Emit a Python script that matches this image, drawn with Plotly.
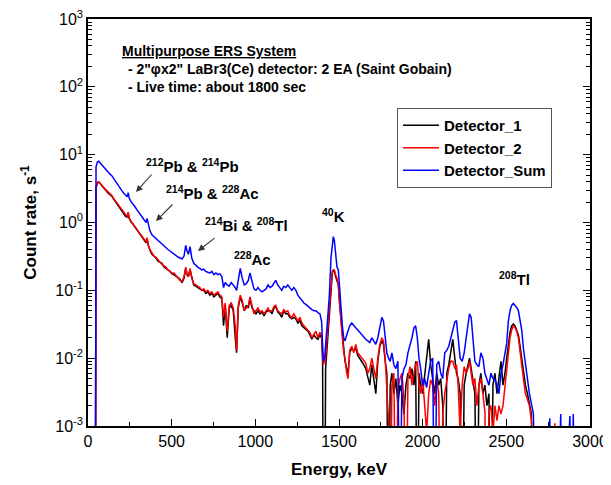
import plotly.graph_objects as go

# ---------------- data ----------------
energy = [44, 48, 56, 64, 72, 82, 94, 106, 118, 130,
          142, 154, 166, 178, 190, 202, 214, 226, 234, 240,
          246, 256, 268, 280, 292, 304, 316, 328, 340, 347,
          353, 360, 370, 382, 394, 406, 418, 430, 442, 454,
          466, 478, 490, 502, 514, 526, 538, 550, 562, 574,
          584, 592, 600, 610, 620, 632, 644, 656, 668, 680,
          692, 704, 716, 728, 740, 752, 764, 776, 788, 800,
          810, 820, 832, 844, 856, 868, 880, 888, 898, 910,
          922, 934, 946, 958, 968, 980, 992, 1004, 1016, 1028,
          1040, 1052, 1064, 1076, 1088, 1100, 1112, 1122, 1134, 1146,
          1158, 1170, 1182, 1194, 1206, 1218, 1230, 1242, 1254, 1266,
          1278, 1290, 1302, 1314, 1326, 1338, 1350, 1362, 1374, 1386,
          1396, 1402, 1406, 1414, 1420, 1432, 1442, 1452, 1460, 1466,
          1472, 1480, 1488, 1496, 1504, 1512, 1520, 1528, 1536, 1546,
          1554, 1564, 1576, 1588, 1600, 1612, 1624, 1636, 1648, 1660,
          1672, 1684, 1696, 1708, 1720, 1732, 1744, 1756, 1766, 1776,
          1786, 1796, 1806, 1816, 1828, 1840, 1852, 1864, 1876, 1888,
          1900, 1912, 1924, 1936, 1948, 1958, 1968, 1978, 1988, 2000,
          2012, 2024, 2036, 2048, 2060, 2072, 2084, 2096, 2108, 2120,
          2132, 2144, 2156, 2168, 2180, 2192, 2202, 2212, 2224, 2236,
          2248, 2260, 2270, 2280, 2290, 2300, 2312, 2324, 2336, 2348,
          2360, 2372, 2384, 2396, 2408, 2420, 2432, 2444, 2456, 2468,
          2480, 2492, 2502, 2512, 2522, 2532, 2542, 2552, 2562, 2572,
          2582, 2592, 2602, 2614, 2626, 2638, 2650, 2662, 2674, 2740,
          2760, 2770, 2790, 2800, 2825, 2835, 2880, 2890, 2900, 2910]

detector_sum = [1e-5, 6.6, 7.8, 8.0, 7.6, 7.1, 6.5, 6.0, 5.6, 5.2,
                4.9, 4.4, 4.0, 3.6, 3.25, 2.95, 2.7, 2.45, 2.4, 2.75,
                2.3, 2.05, 1.9, 1.72, 1.55, 1.42, 1.3, 1.18, 1.08, 1.0,
                1.15, 0.92, 0.76, 0.66, 0.62, 0.58, 0.53, 0.5, 0.47, 0.45,
                0.42, 0.4, 0.38, 0.36, 0.35, 0.33, 0.31, 0.3, 0.29, 0.32,
                0.46, 0.38, 0.34, 0.44, 0.3, 0.25, 0.23, 0.22, 0.21, 0.2,
                0.205, 0.19, 0.185, 0.18, 0.19, 0.17, 0.18, 0.17, 0.175, 0.16,
                0.11, 0.13, 0.12, 0.115, 0.13, 0.12, 0.11, 0.1, 0.14, 0.21,
                0.15, 0.12, 0.125, 0.14, 0.18, 0.13, 0.105, 0.1, 0.11, 0.1,
                0.095, 0.1, 0.105, 0.12, 0.11, 0.115, 0.13, 0.14, 0.12, 0.11,
                0.1, 0.115, 0.11, 0.12, 0.11, 0.1, 0.11, 0.1, 0.085, 0.078,
                0.07, 0.065, 0.062, 0.058, 0.055, 0.052, 0.05, 0.05, 0.047, 0.045,
                0.035, 0.012, 0.009, 0.01, 0.015, 0.03, 0.08, 0.3, 0.55, 0.62,
                0.55, 0.35, 0.22, 0.2, 0.1, 0.05, 0.03, 0.02, 0.018, 0.022,
                0.025, 0.03, 0.033, 0.03, 0.028, 0.026, 0.024, 0.022, 0.02, 0.019,
                0.018, 0.017, 0.02, 0.018, 0.016, 0.02, 0.028, 0.04, 0.035, 0.02,
                0.012, 0.01, 0.009, 0.012, 0.008, 0.007, 0.009, 1e-5, 0.005, 0.007,
                0.008, 0.012, 0.015, 0.02, 0.028, 0.03, 0.02, 0.01, 0.007, 0.004,
                0.005, 0.0037, 0.006, 0.009, 0.01, 1e-5, 0.008, 0.009, 0.006, 0.005,
                0.012, 0.013, 0.015, 0.02, 0.028, 0.034, 0.036, 0.02, 0.01, 0.009,
                0.012, 0.02, 0.032, 0.045, 0.04, 0.02, 0.009, 0.008, 0.0075, 0.012,
                0.01, 0.006, 0.005, 0.004, 0.006, 0.005, 0.0048, 0.004, 0.003, 0.006,
                0.008, 0.012, 0.0165, 0.035, 0.05, 0.06, 0.064, 0.06, 0.056, 0.05,
                0.035, 0.026, 0.014, 0.0075, 0.005, 0.003, 0.002, 0.0015, 1e-5, 1e-5,
                0.0013, 1e-5, 1e-5, 1e-5, 0.0015, 1e-5, 0.0014, 1e-5, 0.0015, 1e-5]

detector_2 = [1e-5, 3.3, 3.9, 4.0, 3.8, 3.6, 3.3, 3.05, 2.85, 2.65,
              2.5, 2.25, 2.05, 1.85, 1.65, 1.5, 1.38, 1.25, 1.22, 1.42,
              1.18, 1.05, 0.97, 0.88, 0.8, 0.72, 0.66, 0.6, 0.55, 0.52,
              0.6, 0.47, 0.4, 0.35, 0.32, 0.31, 0.28, 0.26, 0.24, 0.23,
              0.22, 0.2, 0.19, 0.18, 0.18, 0.165, 0.15, 0.14, 0.135, 0.16,
              0.22, 0.17, 0.16, 0.21, 0.15, 0.125, 0.12, 0.115, 0.11, 0.1,
              0.105, 0.095, 0.1, 0.09, 0.095, 0.085, 0.09, 0.095, 0.085, 0.08,
              0.04, 0.065, 0.025, 0.06, 0.065, 0.055, 0.03, 0.013, 0.06, 0.085,
              0.07, 0.05, 0.055, 0.06, 0.08, 0.06, 0.045, 0.05, 0.055, 0.048,
              0.05, 0.045, 0.05, 0.055, 0.048, 0.05, 0.058, 0.06, 0.05, 0.048,
              0.045, 0.052, 0.048, 0.05, 0.042, 0.04, 0.045, 0.04, 0.035, 0.04,
              0.033, 0.03, 0.028, 0.026, 0.024, 0.02, 0.023, 0.025, 0.02, 0.024,
              0.022, 0.01, 0.008, 0.009, 0.01, 0.025, 0.05, 0.12, 0.19, 0.2,
              0.2, 0.17, 0.15, 0.12, 0.06, 0.035, 0.02, 0.012, 0.01, 0.006,
              0.005, 0.013, 0.015, 0.012, 0.016, 0.012, 0.011, 0.01, 0.009, 0.0085,
              0.006, 0.007, 0.01, 0.007, 0.005, 0.01, 0.016, 0.02, 0.018, 0.01,
              0.003, 0.0012, 1e-5, 0.004, 0.006, 1e-5, 0.0035, 0.005, 0.006, 0.0025,
              1e-5, 0.005, 0.0075, 0.004, 0.006, 0.008, 0.009, 0.004, 0.003, 0.005,
              0.002, 0.0008, 0.003, 0.0048, 0.004, 0.002, 0.005, 0.003, 1e-5, 0.0015,
              0.003, 0.005, 0.007, 0.009, 0.009, 0.007, 0.008, 0.004, 0.0008, 0.004,
              0.0075, 0.006, 0.007, 0.009, 0.006, 0.004, 0.005, 0.002, 0.004, 0.005,
              0.003, 0.0016, 1e-5, 0.0016, 0.002, 0.0008, 0.002, 0.0012, 0.002, 0.0015,
              0.002, 0.004, 0.006, 0.012, 0.02, 0.026, 0.03, 0.028, 0.025, 0.02,
              0.012, 0.008, 0.005, 0.003, 0.0025, 0.002, 0.0012, 1e-5, 1e-5, 1e-5,
              1e-5, 1e-5, 0.0011, 1e-5, 1e-5, 1e-5, 1e-5, 1e-5, 1e-5, 1e-5]

detector_1 = [1e-5, 3.2, 3.8, 3.95, 3.75, 3.5, 3.2, 2.95, 2.75, 2.6,
              2.45, 2.2, 2.0, 1.8, 1.62, 1.48, 1.35, 1.22, 1.2, 1.38,
              1.15, 1.02, 0.95, 0.86, 0.78, 0.71, 0.65, 0.59, 0.54, 0.5,
              0.58, 0.46, 0.39, 0.34, 0.32, 0.3, 0.27, 0.26, 0.25, 0.22,
              0.21, 0.2, 0.19, 0.175, 0.17, 0.16, 0.155, 0.145, 0.13, 0.15,
              0.21, 0.17, 0.16, 0.2, 0.15, 0.12, 0.115, 0.11, 0.105, 0.1,
              0.1, 0.09, 0.095, 0.085, 0.09, 0.08, 0.085, 0.09, 0.08, 0.075,
              0.03, 0.06, 0.02, 0.055, 0.06, 0.05, 0.02, 0.012, 0.055, 0.08,
              0.065, 0.05, 0.06, 0.055, 0.075, 0.055, 0.05, 0.045, 0.05, 0.045,
              0.048, 0.042, 0.048, 0.05, 0.05, 0.045, 0.055, 0.058, 0.048, 0.045,
              0.04, 0.05, 0.045, 0.045, 0.04, 0.038, 0.04, 0.038, 0.033, 0.036,
              0.03, 0.028, 0.027, 0.025, 0.022, 0.019, 0.022, 0.02, 0.019, 0.022,
              0.02, 0.009, 1e-5, 1e-5, 0.007, 0.02, 0.045, 0.11, 0.18, 0.2,
              0.19, 0.16, 0.14, 0.12, 0.06, 0.035, 0.02, 0.013, 0.009, 0.007,
              0.006, 0.012, 0.014, 0.013, 0.014, 0.011, 0.01, 0.009, 0.008, 0.007,
              0.005, 0.004, 0.008, 0.005, 0.003, 0.009, 0.015, 0.018, 0.016, 0.009,
              0.006, 1e-5, 0.004, 0.006, 0.003, 0.005, 0.002, 0.004, 0.003, 0.0015,
              0.004, 0.006, 0.005, 0.007, 0.004, 0.009, 1e-5, 0.006, 0.004, 0.003,
              0.006, 0.012, 0.019, 0.008, 0.005, 0.003, 0.006, 0.004, 0.005, 0.002,
              1e-5, 0.006, 0.008, 0.012, 0.019, 0.01, 0.006, 0.005, 0.003, 1e-5,
              0.004, 0.006, 0.008, 0.01, 0.007, 0.005, 0.003, 1e-5, 0.004, 0.006,
              0.003, 0.004, 0.002, 0.003, 1e-5, 0.004, 0.006, 0.003, 0.005, 0.009,
              0.004, 0.006, 0.01, 0.016, 0.024, 0.03, 0.032, 0.03, 0.026, 0.022,
              0.015, 0.01, 0.006, 0.004, 0.003, 0.002, 0.0015, 1e-5, 1e-5, 1e-5,
              1e-5, 1e-5, 1e-5, 1e-5, 1e-5, 1e-5, 1e-5, 1e-5, 1e-5, 1e-5]

assert len(energy) == len(detector_sum) == len(detector_2) == len(detector_1)

series_names = ["Detector_1", "Detector_2", "Detector_Sum"]
series_colors = ["#000000", "#ff0000", "#0000ff"]

x_ticks = [0, 500, 1000, 1500, 2000, 2500, 3000]
y_exponents = [-3, -2, -1, 0, 1, 2, 3]

peak_labels = ["<sup>212</sup>Pb & <sup>214</sup>Pb",
               "<sup>214</sup>Pb & <sup>228</sup>Ac",
               "<sup>214</sup>Bi & <sup>208</sup>Tl",
               "<sup>228</sup>Ac",
               "<sup>40</sup>K",
               "<sup>208</sup>Tl"]

# ---------------- figure ----------------
FONT = "Liberation Sans, Arial, sans-serif"
OFF = 8                       # default page margin around the plot div
W, H = 611 - OFF, 485 - OFF   # figure size so that it fits the window
# plot area in window pixels: x 88..590, y 19..426
L, T = 88 - OFF, 19 - OFF
PW, PH = 502, 407
R, B = W - L - PW, H - T - PH


def px(x):
    return (x - 88) / PW


def py(y):
    return (426 - y) / PH


fig = go.Figure()
for name, color, vals in zip(series_names, series_colors,
                             [detector_1, detector_2, detector_sum]):
    fig.add_trace(go.Scatter(x=energy, y=vals, mode="lines", name=name,
                             line=dict(color=color, width=1.5)))

minor_y = [m * 10 ** e for e in range(-3, 3) for m in range(2, 10)]

fig.update_layout(
    width=W, height=H,
    margin=dict(l=L, r=R, t=T, b=B, autoexpand=False),
    plot_bgcolor="white", paper_bgcolor="white",
    font=dict(family=FONT, color="black"),
    legend=dict(x=px(397), y=py(108), xanchor="left", yanchor="top",
                bordercolor="#555", borderwidth=1, bgcolor="white",
                font=dict(size=15, weight="bold"),
                tracegroupgap=0, itemwidth=36),
    xaxis=dict(range=[0, 3000], tickvals=x_ticks, ticks="inside", ticklen=7,
               tickwidth=1.2, tickcolor="black", automargin=False,
               ticklabeloverflow="allow",
               minor=dict(dtick=250, tick0=0, ticks="inside", ticklen=4,
                          tickcolor="black"),
               showline=True, linecolor="black", linewidth=1.5, mirror=True,
               showgrid=False, zeroline=False,
               tickfont=dict(size=16),
               title=dict(text="<b>Energy, keV</b>", font=dict(size=17),
                          standoff=14)),
    yaxis=dict(type="log", range=[-3, 3],
               tickvals=[10 ** e for e in y_exponents],
               ticktext=["10<sup>%d</sup>" % e for e in y_exponents],
               ticks="inside", ticklen=7, tickwidth=1.2, tickcolor="black",
               automargin=False, ticklabeloverflow="allow",
               minor=dict(tickmode="array", tickvals=minor_y, ticks="inside",
                          ticklen=4, tickcolor="black"),
               showline=True, linecolor="black", linewidth=1.5,
               mirror="allticks", showgrid=False, zeroline=False,
               tickfont=dict(size=16),
               title=dict(text="<b>Count rate, s<sup>-1</sup></b>",
                          font=dict(size=17), standoff=14)),
)

# header texts
header = [("<b><u>Multipurpose ERS System</u></b>", 120, 51),
          ("<b> - 2\"\u03c6x2\" LaBr3(Ce) detector: 2 EA (Saint Gobain)</b>", 122, 69),
          ("<b> - Live time: about 1800 sec</b>", 122, 87)]
for txt, x, y in header:
    fig.add_annotation(text=txt, xref="paper", yref="paper", x=px(x), y=py(y),
                       xanchor="left", yanchor="middle", showarrow=False,
                       font=dict(size=14, family=FONT, color="black"))

# peak labels
label_pos = [(192, 165), (212, 192), (246, 224), (252, 258), (333, 216), (514, 278)]
for txt, (x, y) in zip(peak_labels, label_pos):
    fig.add_annotation(text="<b>" + txt + "</b>", xref="paper", yref="paper",
                       x=px(x), y=py(y), xanchor="center", yanchor="middle",
                       showarrow=False,
                       font=dict(size=15, family=FONT, color="black"))

# arrows (head, tail)
arrows = [((136, 192), (153, 173)), ((156, 221), (174, 203)), ((198, 251), (216, 237))]
for (hx, hy), (tx, ty) in arrows:
    fig.add_annotation(text="", xref="paper", yref="paper", x=px(hx), y=py(hy),
                       ax=tx - hx, ay=ty - hy, showarrow=True, arrowhead=2,
                       arrowsize=1.2, arrowwidth=1.1, arrowcolor="#333")

fig.write_html("out.html")
